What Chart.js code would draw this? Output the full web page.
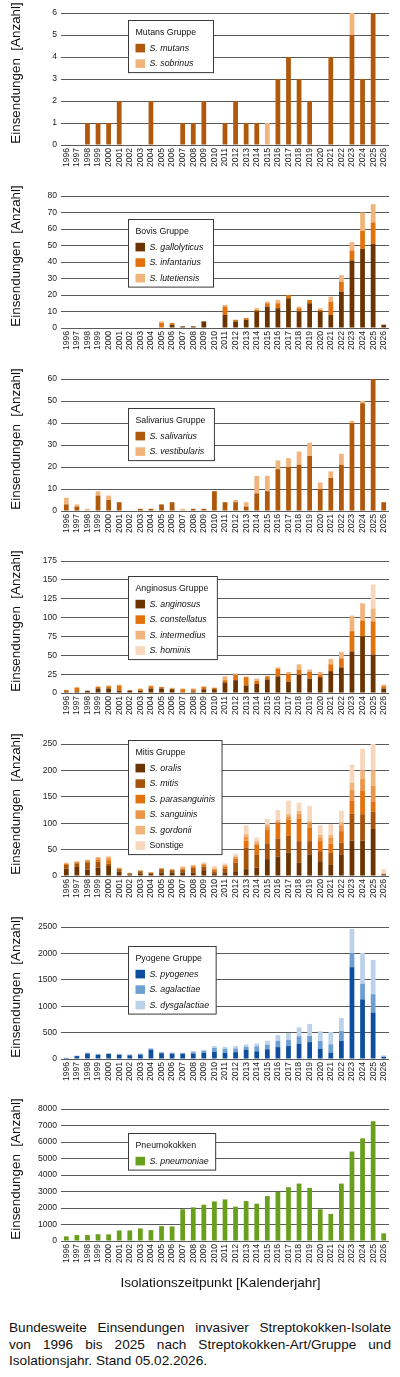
<!DOCTYPE html>
<html>
<head>
<meta charset="utf-8">
<script src="https://cdn.jsdelivr.net/npm/chart.js@4.4.1/dist/chart.umd.min.js"></script>
<style>
  body { margin: 0; background: #fff; width: 400px; height: 1377px; position: relative; overflow: hidden;
         font-family: "Liberation Sans", Arial, sans-serif; color: #111; }
  .panel { position: absolute; left: 0; width: 400px; height: 183px; }
  #xtitle { position: absolute; top: 1275px; left: 0; width: 441px; text-align: center;
            font-size: 13.6px; line-height: 16px; }
  #caption { position: absolute; top: 1320px; left: 9px; width: 382px; text-align: justify;
             font-size: 13.6px; line-height: 16.5px; }
</style>
</head>
<body>
<div class="panel" style="top:0px"><canvas id="c1" width="400" height="183"></canvas></div>
<div class="panel" style="top:183px"><canvas id="c2" width="400" height="183"></canvas></div>
<div class="panel" style="top:366px"><canvas id="c3" width="400" height="183"></canvas></div>
<div class="panel" style="top:548px"><canvas id="c4" width="400" height="183"></canvas></div>
<div class="panel" style="top:731px"><canvas id="c5" width="400" height="183"></canvas></div>
<div class="panel" style="top:914px"><canvas id="c6" width="400" height="183"></canvas></div>
<div class="panel" style="top:1096px"><canvas id="c7" width="400" height="183"></canvas></div>
<div id="xtitle">Isolationszeitpunkt [Kalenderjahr]</div>
<div id="caption">Bundesweite Einsendungen invasiver Streptokokken-Isolate von 1996 bis 2025 nach Streptokokken-Art/Gruppe und Isolationsjahr. Stand 05.02.2026.</div>
<script>
// Isolationsjahre
const years = ['1996','1997','1998','1999','2000','2001','2002','2003','2004','2005','2006',
  '2007','2008','2009','2010','2011','2012','2013','2014','2015','2016','2017','2018','2019',
  '2020','2021','2022','2023','2024','2025','2026'];

// Mutans Gruppe
const mutans   = [0,0,1,1,1,2,0,0,2,0,0,1,1,2,0,1,2,1,1,0,3,4,3,2,0,4,0,5,3,6,0];
const sobrinus = [0,0,0,0,0,0,0,0,0,0,0,0,0,0,0,0,0,0,0,1,0,0,0,0,0,0,0,1,0,0,0];

// Bovis Gruppe
const gallolyticus = [0,0,0,0,0,0,0,0,0,0,2,1,1,4,0,8,4,5,10,13,12,18,10,15,10,8,22,41,48,51,2];
const infantarius  = [0,0,0,0,0,0,0,0,0,3,1,0,0,0,0,5,1,1,1,2,3,2,2,2,1,8,6,6,11,13,0];
const lutetiensis  = [0,0,0,0,0,0,0,0,0,1,0,0,0,0,0,1,0,0,1,1,2,0,1,0,1,3,4,5,11,11,0];

// Salivarius Gruppe
const salivarius   = [3,2,0,7,5,4,0,1,1,3,4,0,1,1,9,4,4,2,8,9,19,20,21,25,10,15,21,40,49,60,4];
const vestibularis = [3,1,1,2,2,0,0,0,0,0,0,1,0,0,0,0,1,2,8,7,4,4,6,6,3,3,5,1,1,0,0];

// Anginosus Gruppe
const anginosus    = [2,2,3,6,6,3,3,3,6,6,5,1,2,5,5,14,17,10,12,18,22,15,24,19,21,29,34,55,75,51,6];
const constellatus = [2,5,0,2,3,7,1,2,3,2,1,4,3,3,2,3,7,11,4,4,10,10,7,9,3,9,12,27,21,44,3];
const intermedius  = [0,1,0,1,1,1,0,1,1,0,1,1,1,1,0,5,2,1,3,1,2,3,7,3,4,7,8,20,23,17,2];
const hominis      = [0,0,0,0,0,0,0,0,0,0,0,0,0,0,0,0,0,0,0,0,0,0,0,0,0,0,1,1,0,32,0];

// Mitis Gruppe
const oralis        = [14,17,12,16,19,8,3,5,4,7,7,7,6,11,5,7,9,13,16,32,37,44,25,41,28,21,41,67,67,89,3];
const mitis         = [7,7,14,11,4,5,2,4,2,6,4,5,9,7,4,7,16,41,25,30,34,32,41,25,19,23,22,51,50,33,1];
const parasanguinis = [2,2,2,4,7,1,1,1,1,1,1,2,3,3,3,3,8,13,18,25,29,30,43,26,19,17,22,25,44,19,0];
const sanguinis     = [1,1,2,3,4,1,0,1,0,1,1,2,2,2,2,3,3,7,3,7,3,7,9,8,7,11,11,20,23,30,0];
const gordonii      = [1,1,1,2,3,1,0,0,0,0,0,1,1,1,1,1,1,5,4,4,3,4,5,4,5,6,6,14,16,29,1];
const sonstige      = [0,0,0,0,0,0,0,0,0,0,0,2,0,2,4,3,5,17,7,10,19,26,16,29,18,20,22,34,41,51,8];

// Pyogene Gruppe
const pyogenes     = [20,55,100,80,95,80,70,80,175,110,100,100,105,120,135,120,130,175,145,185,225,245,290,320,195,120,340,1740,1130,880,40];
const agalactiae   = [0,5,15,10,10,10,10,15,20,15,15,10,25,35,75,75,70,55,95,85,120,115,140,115,145,158,190,265,297,347,10];
const dysgalactiae = [5,5,10,10,5,10,10,15,15,10,10,10,20,20,35,35,45,45,55,75,110,130,170,230,185,233,245,455,581,650,20];

// Pneumokokken
const pneumoniae = [280,360,360,410,400,640,640,760,660,900,880,1920,2040,2200,2400,2520,2080,2420,2260,2720,2980,3260,3480,3220,1920,1640,3480,5420,6220,7260,460];

const FONT = '"Liberation Sans", Arial, sans-serif';
const yTitle = 'Einsendungen  [Anzahl]';

// Legende im Kasten + y-Achsentitel
const decor = {
  id: 'decor',
  afterDraw(chart, args, opts) {
    const ctx = chart.ctx;
    const sets = chart.data.datasets;
    ctx.save();
    // y title
    ctx.fillStyle = '#111';
    ctx.font = '13.4px ' + FONT;
    ctx.textAlign = 'center';
    ctx.textBaseline = 'middle';
    ctx.translate(16.5, 73);
    ctx.rotate(-Math.PI / 2);
    ctx.fillText(yTitle, 0, 0);
    ctx.setTransform(chart.currentDevicePixelRatio, 0, 0, chart.currentDevicePixelRatio, 0, 0);

    // legend box
    const x = 128.5, top = opts.top + 0.5;
    ctx.font = '8.8px ' + FONT;
    let w = ctx.measureText(opts.title).width + 16;
    ctx.font = 'italic 8.8px ' + FONT;
    sets.forEach(d => { w = Math.max(w, ctx.measureText(d.label).width + 28); });
    w = Math.max(w, 85);
    const h = 27.6 + 15.5 * (sets.length - 1) + 9;
    ctx.fillStyle = '#fff';
    ctx.fillRect(x, top, w, h);
    ctx.strokeStyle = '#3a3a3a';
    ctx.lineWidth = 1;
    ctx.strokeRect(x, top, w, h);
    ctx.textAlign = 'left';
    ctx.fillStyle = '#111';
    ctx.font = '8.8px ' + FONT;
    ctx.fillText(opts.title, x + 7, top + 12.3);
    sets.forEach((d, i) => {
      const cy = top + 27.6 + 15.5 * i;
      ctx.fillStyle = d.backgroundColor;
      ctx.fillRect(x + 7, cy - 4.3, 9.5, 8.6);
      ctx.fillStyle = '#111';
      ctx.font = (d.label === 'Sonstige' ? '' : 'italic ') + '8.8px ' + FONT;
      ctx.fillText(d.label, x + 21, cy);
    });
    ctx.restore();
  }
};

function makeChart(id, title, legendTop, ymax, step, series) {
  new Chart(document.getElementById(id), {
    type: 'bar',
    data: {
      labels: years,
      datasets: series.map(s => ({
        label: s[0],
        data: s[1],
        backgroundColor: s[2],
        barPercentage: 0.45,
        categoryPercentage: 1.0
      }))
    },
    options: {
      responsive: false,
      animation: false,
      layout: { padding: { top: 13, right: 11, left: 0, bottom: 0 } },
      plugins: {
        legend: { display: false },
        tooltip: { enabled: false },
        decor: { title: title, top: legendTop }
      },
      scales: {
        x: {
          stacked: true,
          grid: { display: false, drawTicks: false },
          border: { display: false },
          ticks: { minRotation: 90, maxRotation: 90, autoSkip: false, padding: 3,
                   color: '#222', font: { size: 8.6, family: FONT } },
          afterFit(s) { s.height = 38; }
        },
        y: {
          stacked: true,
          min: 0,
          max: ymax,
          grid: { color: '#5a5a5a', lineWidth: 1, drawTicks: false },
          border: { display: false },
          ticks: { stepSize: step, padding: 4, color: '#222', font: { size: 8.6, family: FONT },
                   callback: v => String(v) },
          afterFit(s) { s.width = 61; }
        }
      }
    },
    plugins: [decor]
  });
}

const cDark = '#6a3300', cBrown = '#a8530a', cOrange = '#e3720c', cMid = '#eb9549',
      cLight = '#f0b47c', cPale = '#f7d8bc';

makeChart('c1', 'Mutans Gruppe', 20, 6, 1, [
  ['S. mutans', mutans, '#b0580b'],
  ['S. sobrinus', sobrinus, cLight]
]);
makeChart('c2', 'Bovis Gruppe', 36, 80, 10, [
  ['S. gallolyticus', gallolyticus, cDark],
  ['S. infantarius', infantarius, cOrange],
  ['S. lutetiensis', lutetiensis, cLight]
]);
makeChart('c3', 'Salivarius Gruppe', 42, 60, 10, [
  ['S. salivarius', salivarius, '#b0580b'],
  ['S. vestibularis', vestibularis, cLight]
]);
makeChart('c4', 'Anginosus Gruppe', 28, 175, 25, [
  ['S. anginosus', anginosus, cDark],
  ['S. constellatus', constellatus, cOrange],
  ['S. intermedius', intermedius, cLight],
  ['S. hominis', hominis, cPale]
]);
makeChart('c5', 'Mitis Gruppe', 9, 250, 50, [
  ['S. oralis', oralis, cDark],
  ['S. mitis', mitis, cBrown],
  ['S. parasanguinis', parasanguinis, cOrange],
  ['S. sanguinis', sanguinis, cMid],
  ['S. gordonii', gordonii, cLight],
  ['Sonstige', sonstige, cPale]
]);
makeChart('c6', 'Pyogene Gruppe', 32, 2500, 500, [
  ['S. pyogenes', pyogenes, '#0d4f9e'],
  ['S. agalactiae', agalactiae, '#6d9fd2'],
  ['S. dysgalactiae', dysgalactiae, '#bcd2ea']
]);
makeChart('c7', 'Pneumokokken', 37, 8000, 1000, [
  ['S. pneumoniae', pneumoniae, '#68a01c']
]);
</script>
</body>
</html>
